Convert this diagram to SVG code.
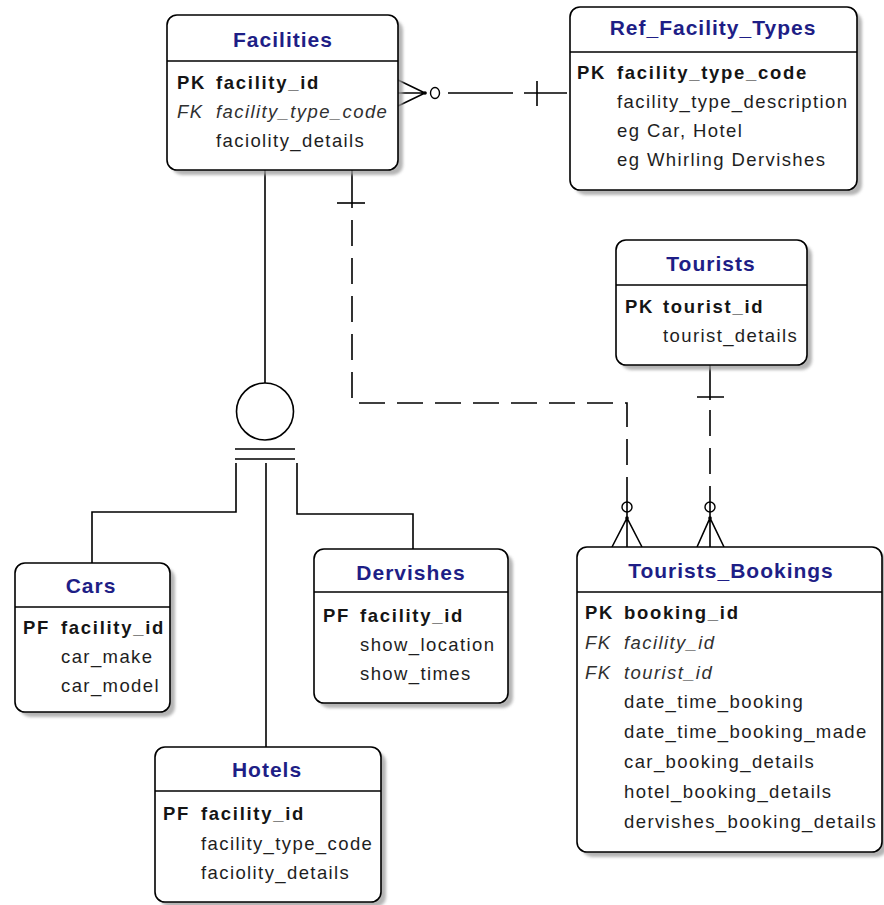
<svg xmlns="http://www.w3.org/2000/svg" width="884" height="905" viewBox="0 0 884 905">
  <defs>
    <filter id="soft" x="-5%" y="-5%" width="110%" height="110%">
      <feGaussianBlur stdDeviation="1.6"/>
    </filter>
    <style>
      .bg { fill: #ffffff; }
      .sh { fill: #9c9c9c; opacity: 0.75; filter: url(#soft); }
      .box { fill: #ffffff; stroke: #000000; stroke-width: 1.6; }
      .div { stroke: #000000; stroke-width: 1.6; }
      .title { font-family: "Liberation Sans", Arial, sans-serif; font-size: 21px; font-weight: bold; fill: #1e1e86; text-anchor: middle; letter-spacing: 1px; }
      .row { font-family: "Liberation Sans", Arial, sans-serif; font-size: 18.5px; fill: #1e1e1e; letter-spacing: 1.4px; }
      .pk { font-weight: bold; letter-spacing: 1.7px; fill: #151515; }
      .fk { font-style: italic; fill: #303030; }
      .ln { fill: none; stroke: #000000; stroke-width: 1.6; }
      .dash { stroke-dasharray: 26 12; }
      .dot { fill: #000000; }
      .ring { fill: #ffffff; stroke: #000000; stroke-width: 1.4; }
    </style>
  </defs>

  <rect class="bg" x="0" y="0" width="884" height="905"/>

  <!-- relationship lines -->
  <g id="connectors">
    <!-- Facilities (many, optional) to Ref_Facility_Types (one) -->
    <path class="ln" d="M398 80 L425 93 L398 106 M398 93 L425 93"/>
    <circle class="dot" cx="425" cy="93" r="1.8"/>
    <ellipse class="ring" cx="435" cy="93" rx="4.5" ry="5.5"/>
    <path class="ln" d="M448 93 H513 M524 93 H567 M537 81 V106"/>

    <!-- Facilities to subtype discriminator -->
    <path class="ln" d="M265 170 V383"/>
    <circle class="ln" cx="265" cy="411.5" r="28.5"/>
    <path class="ln" d="M235 449 H295 M235 459 H295"/>
    <path class="ln" d="M236 463 V512 H92 V563"/>
    <path class="ln" d="M266 463 V747"/>
    <path class="ln" d="M297 463 V514 H413 V549"/>

    <!-- Facilities (one) to Tourists_Bookings (many, optional) -->
    <path class="ln" d="M352 170 V208"/>
    <path class="ln" d="M337 203 H365"/>
    <path class="ln dash" d="M352 220 V403 H627 V500"/>
    <circle class="ring" cx="627" cy="507" r="5"/>
    <path class="ln" d="M627 500 V547 M612 547 L627 518 L642 547"/>
    <circle class="dot" cx="627" cy="518" r="1.8"/>

    <!-- Tourists (one) to Tourists_Bookings (many, optional) -->
    <path class="ln" d="M710 365 V400 M697 397 H724"/>
    <path class="ln dash" d="M710 410 V500"/>
    <circle class="ring" cx="710" cy="507" r="5"/>
    <path class="ln" d="M710 500 V547 M697 547 L710 518 L724 547"/>
    <circle class="dot" cx="710" cy="518" r="1.8"/>
  </g>

  <g id="facilities">
    <rect class="sh" x="172" y="20" width="231" height="155" rx="10"/>
    <rect class="box" x="167" y="15" width="231" height="155" rx="10"/>
    <line class="div" x1="167" y1="61" x2="398" y2="61"/>
    <text class="title" x="283" y="47">Facilities</text>
    <text class="row pk" x="177" y="89">PK</text>
    <text class="row pk" x="216" y="89">facility_id</text>
    <text class="row fk" x="177" y="118">FK</text>
    <text class="row fk" x="216" y="118">facility_type_code</text>
    <text class="row" x="216" y="147">faciolity_details</text>
  </g>

  <g id="ref-facility-types">
    <rect class="sh" x="575" y="12" width="287" height="183" rx="10"/>
    <rect class="box" x="570" y="7" width="287" height="183" rx="10"/>
    <line class="div" x1="570" y1="52" x2="857" y2="52"/>
    <text class="title" x="713" y="35">Ref_Facility_Types</text>
    <text class="row pk" x="577" y="79">PK</text>
    <text class="row pk" x="617" y="79">facility_type_code</text>
    <text class="row" x="617" y="108">facility_type_description</text>
    <text class="row" x="617" y="137">eg Car, Hotel</text>
    <text class="row" x="617" y="166">eg Whirling Dervishes</text>
  </g>

  <g id="tourists">
    <rect class="sh" x="621" y="245" width="191" height="125" rx="10"/>
    <rect class="box" x="616" y="240" width="191" height="125" rx="10"/>
    <line class="div" x1="616" y1="285" x2="807" y2="285"/>
    <text class="title" x="711" y="271">Tourists</text>
    <text class="row pk" x="625" y="313">PK</text>
    <text class="row pk" x="663" y="313">tourist_id</text>
    <text class="row" x="663" y="342">tourist_details</text>
  </g>

  <g id="tourists-bookings">
    <rect class="sh" x="582" y="552" width="305" height="305" rx="10"/>
    <rect class="box" x="577" y="547" width="305" height="305" rx="10"/>
    <line class="div" x1="577" y1="592" x2="882" y2="592"/>
    <text class="title" x="731" y="578">Tourists_Bookings</text>
    <text class="row pk" x="585" y="619">PK</text>
    <text class="row pk" x="624" y="619">booking_id</text>
    <text class="row fk" x="585" y="649">FK</text>
    <text class="row fk" x="624" y="649">facility_id</text>
    <text class="row fk" x="585" y="679">FK</text>
    <text class="row fk" x="624" y="679">tourist_id</text>
    <text class="row" x="624" y="708">date_time_booking</text>
    <text class="row" x="624" y="738">date_time_booking_made</text>
    <text class="row" x="624" y="768">car_booking_details</text>
    <text class="row" x="624" y="798">hotel_booking_details</text>
    <text class="row" x="624" y="828">dervishes_booking_details</text>
  </g>

  <g id="cars">
    <rect class="sh" x="20" y="568" width="155" height="149" rx="10"/>
    <rect class="box" x="15" y="563" width="155" height="149" rx="10"/>
    <line class="div" x1="15" y1="607" x2="170" y2="607"/>
    <text class="title" x="91" y="593">Cars</text>
    <text class="row pk" x="23" y="634">PF</text>
    <text class="row pk" x="61" y="634">facility_id</text>
    <text class="row" x="61" y="663">car_make</text>
    <text class="row" x="61" y="692">car_model</text>
  </g>

  <g id="dervishes">
    <rect class="sh" x="319" y="554" width="194" height="154" rx="10"/>
    <rect class="box" x="314" y="549" width="194" height="154" rx="10"/>
    <line class="div" x1="314" y1="592" x2="508" y2="592"/>
    <text class="title" x="411" y="580">Dervishes</text>
    <text class="row pk" x="323" y="622">PF</text>
    <text class="row pk" x="360" y="622">facility_id</text>
    <text class="row" x="360" y="651">show_location</text>
    <text class="row" x="360" y="680">show_times</text>
  </g>

  <g id="hotels">
    <rect class="sh" x="160" y="752" width="226" height="155" rx="10"/>
    <rect class="box" x="155" y="747" width="226" height="155" rx="10"/>
    <line class="div" x1="155" y1="791" x2="381" y2="791"/>
    <text class="title" x="267" y="777">Hotels</text>
    <text class="row pk" x="163" y="820">PF</text>
    <text class="row pk" x="201" y="820">facility_id</text>
    <text class="row" x="201" y="850">facility_type_code</text>
    <text class="row" x="201" y="879">faciolity_details</text>
  </g>
</svg>
